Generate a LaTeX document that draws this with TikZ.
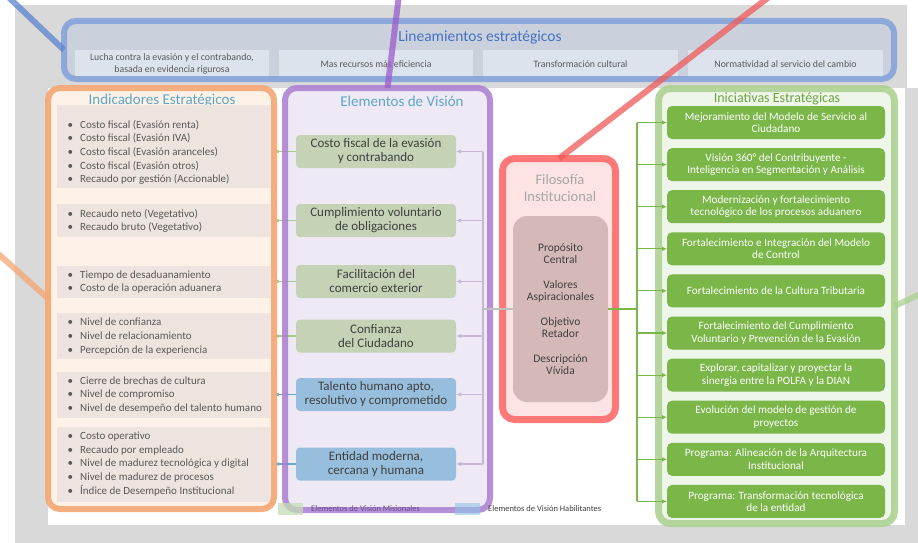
\documentclass[tikz,border=0pt]{standalone}
\usepackage{fontspec}
\setmainfont{Carlito}
\usetikzlibrary{arrows.meta}
\definecolor{bgray}{HTML}{D9D9D9}
\definecolor{linfill}{HTML}{CBD1DC}
\definecolor{subfill}{HTML}{DDE3EC}
\definecolor{blueB}{HTML}{86A4DA}
\definecolor{blueC}{HTML}{5B84D2}
\definecolor{blueT}{HTML}{4472C4}
\definecolor{orgB}{HTML}{F4A672}
\definecolor{orgfill}{HTML}{FDF1E8}
\definecolor{grpfill}{HTML}{EDE4DF}
\definecolor{tealT}{HTML}{5BA7C5}
\definecolor{purB}{HTML}{A97ED0}
\definecolor{purC}{HTML}{9B5BCB}
\definecolor{purfill}{HTML}{EFE9F5}
\definecolor{purtxt}{HTML}{6A4C8C}
\definecolor{visgreen}{HTML}{C5D2B6}
\definecolor{visblue}{HTML}{97BFDD}
\definecolor{redB}{HTML}{FF6B6B}
\definecolor{redC}{HTML}{F05A5A}
\definecolor{redfill}{HTML}{FDE3E3}
\definecolor{philfill}{HTML}{D5B9B9}
\definecolor{greenB}{HTML}{A9D08E}
\definecolor{greenfill}{HTML}{EEF5E9}
\definecolor{inigreen}{HTML}{7AB648}
\definecolor{txtdark}{HTML}{404040}
\definecolor{txtgray}{HTML}{595959}
\definecolor{pbus}{HTML}{C8B7D4}
\definecolor{arrg}{HTML}{A9C98C}
\definecolor{arrb}{HTML}{6FA6D0}
\definecolor{legg}{HTML}{C5DDB5}
\definecolor{legb}{HTML}{8DC3E3}
\begin{document}
\begin{tikzpicture}[x=1pt,y=-1pt,
  cont/.style={rounded corners=12pt, inner sep=0pt, outer sep=0pt, draw=none},
  bord/.style={line width=6pt, rounded corners=12pt, opacity=0.9},
  subbox/.style={fill=subfill, inner sep=0pt, minimum width=194pt, minimum height=28pt, align=center, font=\fontsize{9.8}{11.5}\selectfont, text=txtgray},
  grp/.style={fill=grpfill, inner sep=0pt, outer sep=0pt, minimum width=216pt},
  item/.style={align=left, anchor=west, inner sep=0pt, font=\fontsize{11}{13.6}\selectfont, text=txtgray},
  visbox/.style={rounded corners=4pt, minimum width=160pt, minimum height=33pt, align=center, font=\fontsize{13}{14}\selectfont, text=txtdark, inner sep=0pt, outer sep=0pt},
  inibox/.style={fill=inigreen, rounded corners=5pt, minimum width=218pt, minimum height=33pt, align=center, text=white, font=\fontsize{11.2}{12.5}\selectfont, inner sep=0pt, outer sep=0pt},
  ttl/.style={inner sep=0pt, font=\fontsize{15}{17}\selectfont},
  visarr/.style={draw=pbus, line width=1.3pt, -{Latex[length=5pt,width=4.5pt]}},
  iniarr/.style={draw=inigreen, line width=1.1pt, -{Latex[length=5pt,width=4.5pt]}},
  callout/.style={line width=6pt, opacity=0.75},
  legtxt/.style={anchor=west, inner sep=0pt, font=\fontsize{8.5}{10}\selectfont, text=txtgray}
]
\useasboundingbox (0,0) rectangle (918,543);
\clip (0,0) rectangle (918,543);
% background
\fill[bgray] (15,5) rectangle (907,543);
\fill[bgray] (907,88) rectangle (918,543);
\fill[white] (48,88) rectangle (905,525);

% Lineamientos
\node[cont, fill=linfill, minimum width=830pt, minimum height=58pt] (lin) at (479,50) {};
\node[ttl, text=blueT, font=\fontsize{15.5}{17}\selectfont] (lint) at (480,38) {Lineamientos estratégicos};
\node[subbox] (s1) at (172,64) {Lucha contra la evasión y el contrabando,\\basada en evidencia rigurosa};
\node[subbox] (s2) at (376,64) {Mas recursos más eficiencia};
\node[subbox, minimum width=195pt] (s3) at (580.5,64) {Transformación cultural};
\node[subbox, minimum width=195pt] (s4) at (785.5,64) {Normatividad al servicio del cambio};
\draw[bord, draw=blueB] (lin.north west) rectangle (lin.south east);

% Indicadores
\node[cont, fill=orgfill, minimum width=226pt, minimum height=421pt] (ind) at (161,298.5) {};
\node[ttl, text=tealT] (indt) at (162,101) {Indicadores Estratégicos};
\node[grp, minimum height=83pt] (g1) at (165,146.5) {};
\node[grp, minimum height=33pt] (g2) at (165,220.5) {};
\node[grp, minimum height=32pt] (g3) at (165,282) {};
\node[grp, minimum height=46pt] (g4) at (165,336) {};
\node[grp, minimum height=46pt] (g5) at (165,395) {};
\node[grp, minimum height=75pt] (g6) at (165,464.5) {};
\newcommand{\bul}{\makebox[12.5pt][l]{\textbullet}}
\node[item] (t1) at (67.5,152.5) {\bul Costo fiscal (Evasión renta)\\\bul Costo fiscal (Evasión IVA)\\\bul Costo fiscal (Evasión aranceles)\\\bul Costo fiscal (Evasión otros)\\\bul Recaudo por gestión (Accionable)};
\node[item] (t2) at (67.5,221) {\bul Recaudo neto (Vegetativo)\\\bul Recaudo bruto (Vegetativo)};
\node[item] (t3) at (67.5,282) {\bul Tiempo de desaduanamiento\\\bul Costo de la operación aduanera};
\node[item] (t4) at (67.5,336.5) {\bul Nivel de confianza\\\bul Nivel de relacionamiento\\\bul Percepción de la experiencia};
\node[item] (t5) at (67.5,395) {\bul Cierre de brechas de cultura\\\bul Nivel de compromiso\\\bul Nivel de desempeño del talento humano};
\node[item] (t6) at (67.5,464) {\bul Costo operativo\\\bul Recaudo por empleado\\\bul Nivel de madurez tecnológica y digital\\\bul Nivel de madurez de procesos\\\bul Índice de Desempeño Institucional};

% Vision
\node[cont, fill=purfill, minimum width=205pt, minimum height=422pt] (vis) at (387.5,299) {};
\node[ttl, text=tealT] (vist) at (402,101) {Elementos de Visión};
\node[visbox, fill=visgreen] (v1) at (376,151.5) {Costo fiscal de la evasión\\y contrabando};
\node[visbox, fill=visgreen] (v2) at (376,220.5) {Cumplimiento voluntario\\de obligaciones};
\node[visbox, fill=visgreen] (v3) at (376,281.5) {Facilitación del\\comercio exterior};
\node[visbox, fill=visgreen] (v4) at (376,336) {Confianza\\del Ciudadano};
\node[visbox, fill=visblue] (v5) at (376,394.5) {Talento humano apto,\\resolutivo y comprometido};
\node[visbox, fill=visblue] (v6) at (376,464) {Entidad moderna,\\cercana y humana};
\coordinate (pbx) at (483,0);
\draw[draw=pbus, line width=1.3pt] (v1.east -| pbx) -- (v6.east -| pbx);
\foreach \v in {v1,v2,v3,v4,v5,v6} {\draw[visarr] (\v.east -| pbx) -- (\v.east);}
\foreach \v in {v1,v2,v3,v4} {\draw[draw=arrg, line width=1.1pt, -{Latex[length=4.5pt,width=4pt]}] (\v.west) -- (\v.west -| ind.east);}
\foreach \v in {v5,v6} {\draw[draw=arrb, line width=1.1pt, -{Latex[length=4.5pt,width=4pt]}] (\v.west) -- (\v.west -| ind.east);}

\draw[bord, draw=orgB] (ind.north west) rectangle (ind.south east);
\draw[bord, draw=purB, opacity=0.85] (vis.north west) rectangle (vis.south east);

% legend (seen through the purple frame)
\node[fill=legg, fill opacity=0.75, minimum width=25pt, minimum height=12pt, inner sep=0pt] (lg1) at (290.5,509) {};
\node[legtxt, text=purtxt] (lg1t) at (311,509) {Elementos de Visión Misionales};
\node[fill=legb, fill opacity=0.6, minimum width=25pt, minimum height=12pt, inner sep=0pt] (lg2) at (467.5,509) {};
\node[legtxt, text=txtdark] (lg2t) at (488,509) {Elementos de Visión Habilitantes};

% Filosofia
\node[cont, fill=redfill, minimum width=113pt, minimum height=261pt] (red) at (559,289) {};
\node[ttl, text=black!35, align=center, font=\fontsize{14.5}{17}\selectfont] (redt) at (560,188.5) {Filosofía\\Institucional};
\node[cont, fill=philfill, minimum width=95pt, minimum height=186pt, align=center, text=txtdark, font=\fontsize{11.5}{11.5}\selectfont, rounded corners=14pt] (phil) at (560.5,309) {Propósito\\Central\\[14pt]Valores\\Aspiracionales\\[14pt]Objetivo\\Retador\\[14pt]Descripción\\Vívida};
\draw[bord, draw=redB, line width=7pt] (red.north west) rectangle (red.south east);

% Iniciativas
\node[cont, fill=greenfill, minimum width=236pt, minimum height=435pt] (ini) at (776.5,306) {};
\node[ttl, text=inigreen!90!black, font=\fontsize{14}{16}\selectfont] (init) at (777,98.5) {Iniciativas Estratégicas};
\node[inibox] (i1) at (776,122.5) {Mejoramiento del Modelo de Servicio al\\Ciudadano};
\node[inibox] (i2) at (776,164.6) {Visión 360° del Contribuyente -\\Inteligencia en Segmentación y Análisis};
\node[inibox] (i3) at (776,206.7) {Modernización y fortalecimiento\\tecnológico de los procesos aduanero};
\node[inibox] (i4) at (776,248.8) {Fortalecimiento e Integración del Modelo\\de Control};
\node[inibox] (i5) at (776,290.9) {Fortalecimiento de la Cultura Tributaria};
\node[inibox] (i6) at (776,333) {Fortalecimiento del Cumplimiento\\Voluntario y Prevención de la Evasión};
\node[inibox] (i7) at (776,375.1) {Explorar, capitalizar y proyectar la\\sinergia entre la POLFA y la DIAN};
\node[inibox] (i8) at (776,417.2) {Evolución del modelo de gestión de\\proyectos};
\node[inibox] (i9) at (776,459.3) {Programa: Alineación de la Arquitectura\\Institucional};
\node[inibox] (i10) at (776,501.4) {Programa: Transformación tecnológica\\de la entidad};
\draw[bord, draw=greenB, line width=7pt, opacity=0.85] (ini.north west) rectangle (ini.south east);

% buses from Filosofia
\coordinate (gbx) at (637,0);
\draw[draw=inigreen, line width=1.1pt] (i1.west -| gbx) -- (i10.west -| gbx);
\foreach \i in {i1,i2,i3,i4,i5,i6,i7,i8,i9,i10} {\draw[iniarr] (\i.west -| gbx) -- (\i.west);}
\draw[draw=inigreen, line width=1.1pt] (phil.east) -- (phil.east -| gbx);
\draw[draw=black!25, line width=1.1pt] (phil.west) -- (phil.west -| pbx);

% callout lines
\coordinate (cb) at (3,-8);
\coordinate (cp) at (399,-5);
\coordinate (cr) at (778,-10);
\coordinate (co) at (-6,250);
\coordinate (cg) at (925,292);
\draw[callout, draw=blueC] (cb) -- (lin.west);
\draw[callout, draw=purC] (cp) -- (vis.north);
\draw[callout, draw=redC] (cr) -- (red.north);
\draw[callout, draw=orgB] (co) -- (ind.west);
\draw[callout, draw=greenB] (ini.east) -- (cg);
\end{tikzpicture}
\end{document}
